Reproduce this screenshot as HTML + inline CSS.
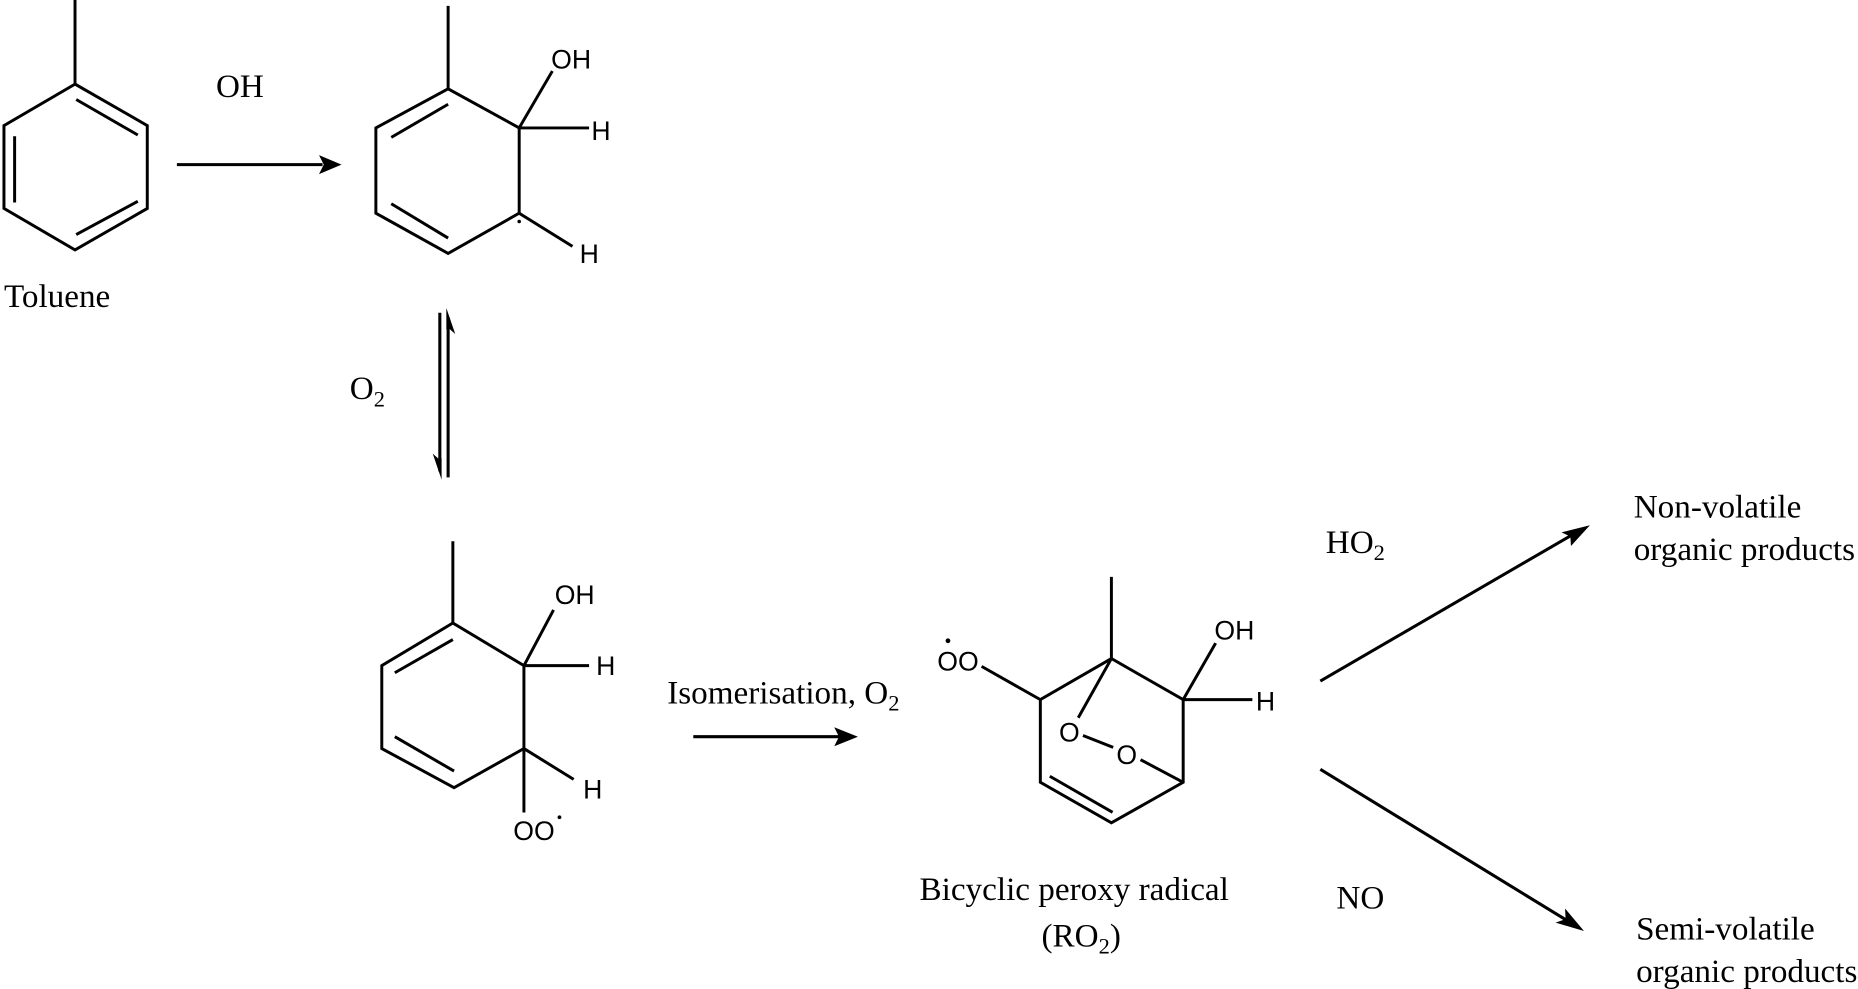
<!DOCTYPE html>
<html><head><meta charset="utf-8"><style>
html,body{margin:0;padding:0;background:#fff;width:1858px;height:989px;overflow:hidden}
svg{display:block;filter:blur(0.3px)}
.b{stroke:#000;stroke-width:2.5;fill:none;stroke-linejoin:miter;stroke-linecap:butt}
.a{stroke:#000;stroke-width:2.6;fill:none}
.h{fill:#000;stroke:none}
.t{font-family:"Liberation Serif",serif;font-size:28px;fill:#000}
.s{font-family:"Liberation Sans",sans-serif;font-size:22.5px;fill:#000}
.sub{font-size:19px}
</style></head><body>
<svg width="1858" height="989" viewBox="0 0 1568 835" xmlns="http://www.w3.org/2000/svg">
<rect width="1568" height="835" fill="#fff"/>
<!-- Toluene -->
<path class="b" d="M63 0V71L124 106V176L63 211L3 176V106L63 71"/>
<path class="b" d="M64 84L116 114M12 115V171M64 198L116 170"/>
<text class="t" x="3" y="259">Toluene</text>
<!-- Arrow 1 -->
<path class="a" d="M149 139H272"/><path class="h" d="M288 139L269 131L273 139L269 147Z"/>
<text class="t" x="182" y="82">OH</text>
<!-- Adduct -->
<path class="b" d="M378 5V75L438 108V180L378 214L317 180V108L378 75"/>
<path class="b" d="M378 88L330 116M330 172L378 201"/>
<path class="b" d="M438 108L466 60M438 108H497M438 180L483 208"/>
<circle cx="438" cy="187" r="1.5" fill="#000"/>
<text class="s" x="465" y="58">OH</text>
<text class="s" x="499" y="118">H</text>
<text class="s" x="489" y="222">H</text>
<!-- Equilibrium -->
<path class="a" d="M371 264V398"/><path class="h" d="M372.500 405L365 383L369.500 387H372.500Z"/>
<path class="a" d="M378 403V268"/><path class="h" d="M376.500 260L384 282L379.500 278H376.500Z"/>
<text class="t" x="295" y="337">O<tspan class="sub" dy="6">2</tspan></text>
<!-- Peroxy -->
<path class="b" d="M382 457V526L442 562V632L383 665L322 632V562L382 526"/>
<path class="b" d="M382 540L333 568M333 622L383 651"/>
<path class="b" d="M442 562L467 515M442 562H497M442 632L484 658M442 632V686"/>
<text class="s" x="468" y="510">OH</text>
<text class="s" x="503" y="570">H</text>
<text class="s" x="492" y="674">H</text>
<text class="s" x="433" y="709">OO</text>
<circle cx="472" cy="690" r="1.6" fill="#000"/>
<!-- Arrow 2 -->
<path class="a" d="M585 622H708"/><path class="h" d="M724 622L704 614L708 622L704 630Z"/>
<text class="t" x="563" y="594">Isomerisation, O<tspan class="sub" dy="6">2</tspan></text>
<!-- Bicyclic -->
<path class="b" d="M938 487V556L998.600 590.700V660.500L938 694.700L878 660.500V590.700L938 556"/>
<path class="b" d="M886 655.400L939 685.800"/>
<path class="b" d="M938 556L910 606M914 621L939.500 631M962.600 641.400L998.600 660.500M828.400 562.600L878 590.700M998.600 590.700L1026 543M998.600 590.700H1057"/>
<text class="s" x="902.500" y="626" text-anchor="middle">O</text>
<text class="s" x="951" y="645" text-anchor="middle">O</text>
<text class="s" x="791" y="566">OO</text>
<circle cx="800" cy="541" r="2" fill="#000"/>
<text class="s" x="1025" y="540">OH</text>
<text class="s" x="1060" y="600">H</text>
<text class="t" x="776" y="760">Bicyclic peroxy radical</text>
<text class="t" x="879" y="799">(RO<tspan class="sub" dy="6">2</tspan><tspan dy="-6">)</tspan></text>
<!-- Branches -->
<path class="a" d="M1114.400 575L1328 451"/><path class="h" d="M1342 443.500L1318 449.500L1325.500 453L1326 461Z"/>
<path class="a" d="M1114.400 649.500L1324 778"/><path class="h" d="M1337 786L1321 767L1321.500 776L1313 779Z"/>
<text class="t" x="1119" y="467">HO<tspan class="sub" dy="6">2</tspan></text>
<text class="t" x="1128" y="767">NO</text>
<text class="t" x="1379" y="437">Non-volatile</text>
<text class="t" x="1379" y="473">organic products</text>
<text class="t" x="1381" y="793">Semi-volatile</text>
<text class="t" x="1381" y="829">organic products</text>
</svg>
</body></html>
